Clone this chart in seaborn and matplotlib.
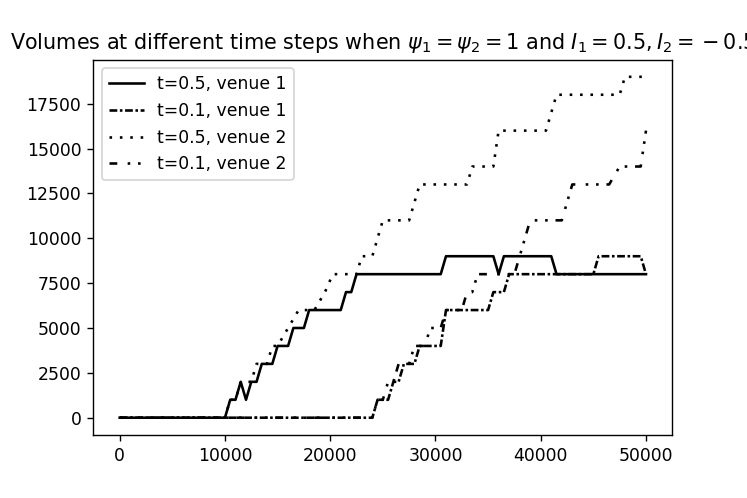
import pandas as pd
import matplotlib
matplotlib.use('Agg')
import matplotlib.pyplot as plt
import seaborn as sns

# step vertices (time, volume)
t05_v1_time = [0, 10000, 10500, 11000, 11500, 12000, 12500, 13000, 13500, 14500,
               15000, 16000, 16500, 17500, 18000, 21000, 21500, 22000, 22500,
               30500, 31000, 35500, 36000, 36500, 41000, 41500, 50000]
t05_v1_vol = [0, 0, 1000, 1000, 2000, 1000, 2000, 2000, 3000, 3000,
              4000, 4000, 5000, 5000, 6000, 6000, 7000, 7000, 8000,
              8000, 9000, 9000, 8000, 9000, 9000, 8000, 8000]

t01_v1_time = [0, 24000, 24500, 25500, 26000, 26500, 27000, 28000, 28500, 30500,
               31000, 35000, 35500, 36500, 37000, 45000, 45500, 49500, 50000]
t01_v1_vol = [0, 0, 1000, 1000, 2000, 2000, 3000, 3000, 4000, 4000,
              6000, 6000, 7000, 7000, 8000, 8000, 9000, 9000, 8000]

t05_v2_time = [0, 10000, 10500, 11000, 11500, 12500, 13000, 14000, 14500, 15000,
               16000, 17000, 18500, 19500, 20250, 22500, 23000, 24000, 25000,
               27500, 28500, 33000, 33500, 35500, 36000, 40500, 41500, 47500,
               48000, 50000]
t05_v2_vol = [0, 0, 1000, 1000, 2000, 2000, 3000, 3000, 4000, 4000,
              5000, 6000, 6000, 7000, 8000, 8000, 9000, 9000, 11000,
              11000, 13000, 13000, 14000, 14000, 16000, 16000, 18000, 18000,
              19000, 19000]

t01_v2_time = [0, 24000, 24500, 25000, 25500, 26000, 26500, 27500, 28000, 29000,
               29500, 30500, 31000, 32500, 33000, 33500, 34000, 37500, 39000,
               42000, 43000, 46500, 47500, 49500, 50000]
t01_v2_vol = [0, 0, 1000, 1000, 2000, 2000, 3000, 3000, 4000, 4000,
              5000, 5000, 6000, 6000, 7000, 7000, 8000, 8000, 11000,
              11000, 13000, 13000, 14000, 14000, 16000]

labels = ["t=0.5, venue 1", "t=0.1, venue 1", "t=0.5, venue 2", "t=0.1, venue 2"]
series = [(t05_v1_time, t05_v1_vol), (t01_v1_time, t01_v1_vol),
          (t05_v2_time, t05_v2_vol), (t01_v2_time, t01_v2_vol)]

frames = []
for lab, (tt, vv) in zip(labels, series):
    frames.append(pd.DataFrame({"time": tt, "volume": vv, "run": lab}))
df = pd.concat(frames, ignore_index=True)

dashes = {
    "t=0.5, venue 1": "",
    "t=0.1, venue 1": (3, 1, 1, 1),
    "t=0.5, venue 2": (1, 3),
    "t=0.1, venue 2": (3, 4, 1, 3, 1, 3),
}

fig = plt.figure(figsize=(6, 4), dpi=124.5)
ax = fig.add_subplot(111)
fig.subplots_adjust(left=0.125, right=0.9, top=0.88, bottom=0.127)

sns.lineplot(data=df, x="time", y="volume", style="run", style_order=labels,
             dashes=dashes, color="black", linewidth=1.5,
             estimator=None, sort=False, ax=ax)

sns.move_legend(ax, "upper left", title=None, fontsize=10)
ax.set_xlabel("")
ax.set_ylabel("")
ax.set_title(r"Volumes at different time steps when $\psi_1 = \psi_2 = 1$ and $I_1 = 0.5, I_2 = {} - 0.5$",
             fontsize=12)

fig.savefig("out.png", dpi=124.5)
